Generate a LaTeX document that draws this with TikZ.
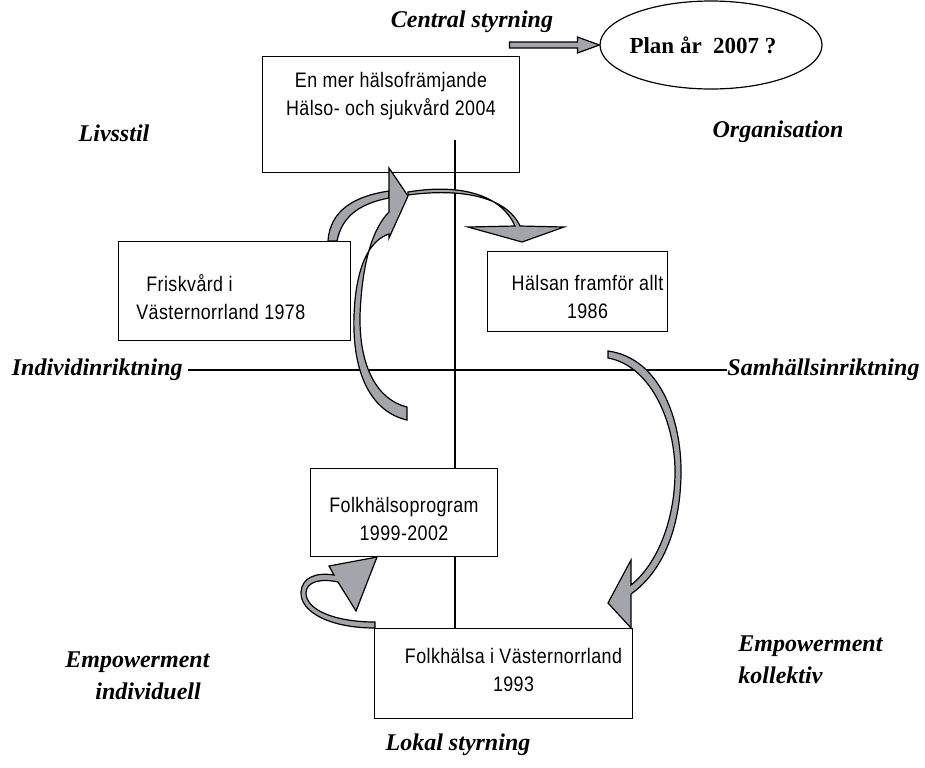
\documentclass[tikz,border=0pt]{standalone}
\usepackage{fontspec}
\setmainfont{Liberation Serif}
\newfontfamily\boxfont{Liberation Sans}[FakeStretch=0.85,LetterSpace=2]
\usetikzlibrary{positioning,shapes.geometric,calc}

\definecolor{arrowgray}{RGB}{163,165,170}
\tikzset{
  box/.style={draw, line width=0.5pt, inner sep=0pt, anchor=north west},
  boxtext/.style={font=\boxfont\fontsize{10.5}{14}\selectfont, align=center, inner sep=0pt},
  lbl/.style={font=\bfseries\itshape\fontsize{12}{16}\selectfont, inner sep=0pt},
  blockarrow/.style={draw=black, fill=arrowgray, line width=0.6pt},
}

\begin{document}
\begin{tikzpicture}[x=0.5pt,y=-0.5pt]
\useasboundingbox (0,0) rectangle (925,767);

%axes
\node[lbl, anchor=east] (indiv) at (183,370) {Individinriktning};
\node[lbl, anchor=west] (samh) at (727,370) {Samhällsinriktning};
\draw[line width=0.6pt] (indiv.east) ++(5,0) -- (samh.west);
\coordinate (axistop) at (455,140);

%boxes
\node[box, fill=white, minimum width=129pt, minimum height=45pt] (folk1993) at (374,628) {};
\draw[line width=0.6pt] (axistop) -- (axistop |- folk1993.north);
\node[box, minimum width=128.5pt, minimum height=58pt] (plan2004) at (262,56) {};
\node[boxtext, below=8pt of plan2004.north] {En mer hälsofrämjande\\Hälso- och sjukvård 2004};
\node[box, fill=white, minimum width=116pt, minimum height=49.5pt] (frisk) at (118,241) {};
\node[boxtext, align=left, anchor=west] at ($(frisk.west)+(18,6)$) {\hspace*{5pt}Friskvård i\\Västernorrland 1978};
\node[box, fill=white, minimum width=90pt, minimum height=40pt] (halsan) at (487,251) {};
\node[boxtext] at ($(halsan.center)+(10,5)$) {Hälsan framför allt\\1986};
\node[box, fill=white, minimum width=93.5pt, minimum height=44pt] (folk1999) at (310,468) {};
\node[boxtext] at ($(folk1999.center)+(0,6)$) {Folkhälsoprogram\\1999-2002};
\node[boxtext, below=10pt of folk1993.north, xshift=5pt] {Folkhälsa i Västernorrland\\1993};

%plan
\node[draw, ellipse, line width=0.6pt, minimum width=111pt, minimum height=44pt, inner sep=0pt,
  font=\bfseries\fontsize{11.5}{12}\selectfont] (plan) at (711,45) {\hspace*{-8pt}Plan år~ 2007 ?};
\draw[blockarrow] ($(plan.west)+(-90,-3)$) -- ++(68,0) -- ++(0,-5) -- (plan.west)
  -- ++(-22,8) -- ++(0,-5) -- ++(-68,0) -- cycle;

%labels
\node[lbl] (central) at (472,22) {Central styrning};
\node[lbl] (organ) at (778,132) {Organisation};
\node[lbl] (livs) at (114,133) {Livsstil};
\node[lbl, align=left, anchor=west] (empind) at (65,676) {Empowerment\\\hspace*{15pt}individuell};
\node[lbl, align=left, anchor=west] (empkol) at (738,660) {Empowerment\\kollektiv};
\node[lbl] (lokal) at (458,745) {Lokal styrning};

%curved arrows
\draw[blockarrow] (328,241) .. controls (330,210) and (355,196) .. (389,191) -- (389,198)
  .. controls (362,203) and (342,215) .. (337,241) -- cycle;
\draw[blockarrow] (407,420) .. controls (372,412) and (352,375) .. (354,315)
  .. controls (356,265) and (370,240) .. (389,234) -- (389,238) -- (408,196) -- (389,168)
  -- (389,212) .. controls (373,228) and (362,262) .. (360,315)
  .. controls (359,368) and (378,400) .. (407,407) -- cycle;
\draw[blockarrow] (408,192) .. controls (455,184) and (500,192) .. (515,226) -- (468,227)
  -- (522,242) -- (564,227) -- (520,226) .. controls (506,196) and (460,188) .. (408,195) -- cycle;
\draw[blockarrow] (608,351) .. controls (660,358) and (682,420) .. (681,475)
  .. controls (680,530) and (662,572) .. (631,594) -- (631,628) -- (608,603) -- (631,560)
  -- (631,585) .. controls (655,566) and (674,525) .. (675,475)
  .. controls (676,425) and (652,366) .. (608,358) -- cycle;
\draw[blockarrow] (375,628) .. controls (330,628) and (300,612) .. (301,592)
  .. controls (302,578) and (315,572) .. (334,575) -- (329,566) -- (377,557) -- (356,611)
  -- (338,582) .. controls (320,578) and (306,582) .. (306,593)
  .. controls (306,610) and (335,622) .. (375,622) -- cycle;

\end{tikzpicture}
\end{document}
